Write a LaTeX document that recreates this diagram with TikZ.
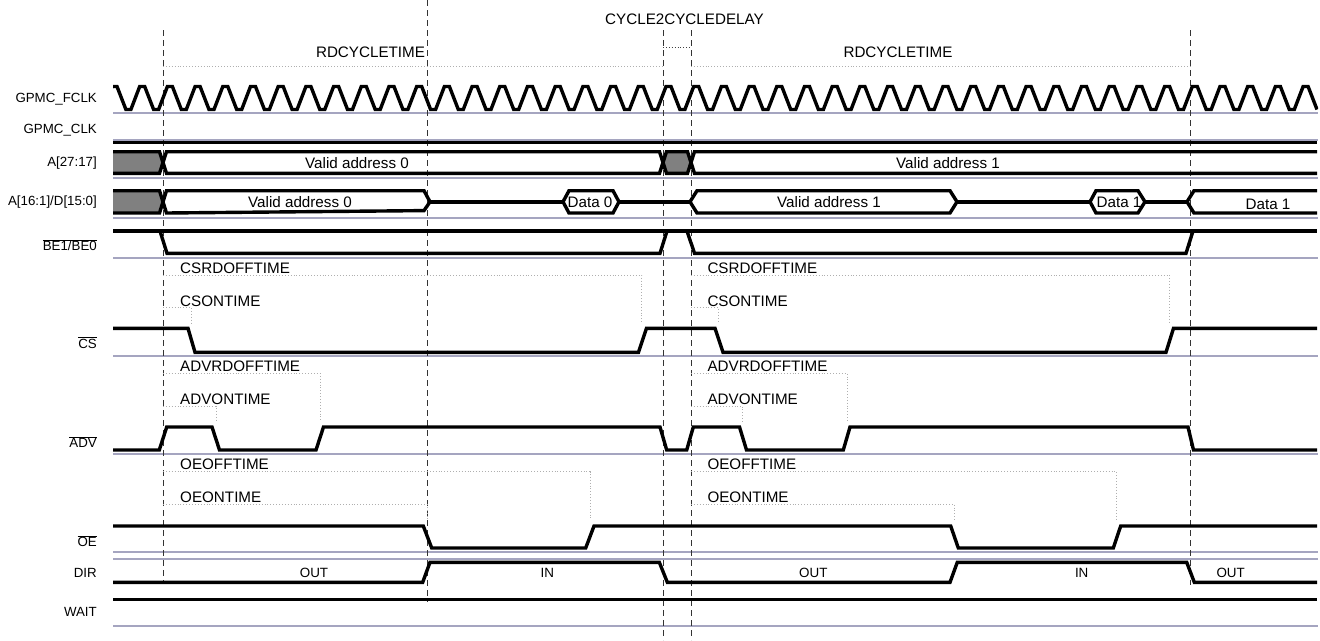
\documentclass[tikz,border=0pt]{standalone}
\usepackage{fontspec}
\setmainfont{Liberation Sans}
\definecolor{dcgray}{RGB}{128,128,128}
\definecolor{basec}{RGB}{165,165,192}
\definecolor{annc}{RGB}{175,175,175}
\begin{document}
\begin{tikzpicture}[x=1pt,y=-1pt,
  sig/.style={line width=3.4pt, black},
  base/.style={line width=1.5pt, color=basec},
  guide/.style={line width=1pt, dash pattern=on 6pt off 4pt, color=black!80},
  ann/.style={line width=0.9pt, dotted, color=annc},
  lbl/.style={anchor=east, inner sep=0pt, font=\fontsize{13.3}{15}\selectfont},
  antxt/.style={anchor=west, inner sep=0pt, font=\fontsize{15.2}{17}\selectfont},
  toptxt/.style={inner sep=0pt, font=\fontsize{15.2}{17}\selectfont},
  bustxt/.style={inner sep=0pt, font=\fontsize{15.2}{17}\selectfont},
  dirtxt/.style={inner sep=0pt, font=\fontsize{13.4}{15}\selectfont}
]
\useasboundingbox (0,0) rectangle (1320,640);

% baselines
\foreach \yy in {113,140,178,218,258,356,454,552,559,626}
  \draw[base] (113,\yy) -- (1318,\yy);

% dashed guides
\draw[guide] (163,30) -- (163,582);
\draw[guide] (427,0) -- (427,602);
\draw[guide] (663,30) -- (663,640);
\draw[guide] (691,30) -- (691,640);
\draw[guide] (1190,30) -- (1190,585);

% annotation dotted lines
\draw[ann] (163,66) -- (663,66);
\draw[ann] (691,66) -- (1190,66);
\draw[line width=0.9pt, dotted, color=black!75] (663,47.3) -- (691,47.3);
\draw[ann] (163,275) -- (641.7,275) -- (641.7,323);
\draw[ann] (691,275) -- (1169.3,275) -- (1169.3,323);
\draw[ann] (163,307.7) -- (191.7,307.7) -- (191.7,323);
\draw[ann] (691,307.7) -- (718.3,307.7) -- (718.3,323);
\draw[ann] (163,373.3) -- (320,373.3) -- (320,421.7);
\draw[ann] (691,373.3) -- (847.3,373.3) -- (847.3,421.7);
\draw[ann] (163,406) -- (216,406) -- (216,421.7);
\draw[ann] (691,406) -- (742.7,406) -- (742.7,421.7);
\draw[ann] (163,471.7) -- (590,471.7) -- (590,520);
\draw[ann] (691,471.7) -- (1116.7,471.7) -- (1116.7,520);
\draw[ann] (163,504) -- (427,504) -- (427,520);
\draw[ann] (691,504) -- (954.3,504) -- (954.3,520);

% GPMC_FCLK
\begin{scope}
\clip (113,70) rectangle (1318,120);
\draw[sig] (95,109.5) \foreach \k in {-2,...,41}{
  -- ({163+\k*27.7-4.4},109.5) -- ({163+\k*27.7+4.4},86.5)
  -- ({163+\k*27.7+9.4},86.5) -- ({163+\k*27.7+18.3},109.5)};
\end{scope}

% GPMC_CLK
\draw[sig] (113,142.3) -- (1317,142.3);

% A[27:17]
\fill[dcgray] (113,151.7) -- (159.5,151.7) -- (163,162.5) -- (159.5,173.3) -- (113,173.3) -- cycle;
\fill[dcgray] (666.5,151.7) -- (687.5,151.7) -- (691,162.5) -- (687.5,173.3) -- (666.5,173.3) -- (663,162.5) -- cycle;
\draw[sig] (113,151.7) -- (159.5,151.7) -- (166.5,173.3) -- (659.5,173.3) -- (666.5,151.7) -- (687.5,151.7) -- (694.5,173.3) -- (1317,173.3);
\draw[sig] (113,173.3) -- (159.5,173.3) -- (166.5,151.7) -- (659.5,151.7) -- (666.5,173.3) -- (687.5,173.3) -- (694.5,151.7) -- (1317,151.7);

% A[16:1]/D[15:0]
\fill[dcgray] (113,190.7) -- (159.5,190.7) -- (163,201.8) -- (159.5,213) -- (113,213) -- cycle;
\draw[sig] (113,190.7) -- (159.5,190.7) -- (166.5,213) -- (424,210.6) -- (430,201.8) -- (424,190.7) -- (166.5,190.7) -- (159.5,213) -- (113,213);
\draw[sig] (430,201.8) -- (563,201.8);
\draw[sig] (563,201.8) -- (569,190.7) -- (613,190.7) -- (619,201.8) -- (613,213) -- (569,213) -- cycle;
\draw[sig] (619,201.8) -- (690,201.8);
\draw[sig] (690,201.8) -- (697,190.7) -- (950,190.7) -- (957,201.8) -- (950,213) -- (697,213) -- cycle;
\draw[sig] (957,201.8) -- (1090,201.8);
\draw[sig] (1090,201.8) -- (1096,190.7) -- (1138,190.7) -- (1145,201.8) -- (1138,213) -- (1096,213) -- cycle;
\draw[sig] (1145,201.8) -- (1187,201.8);
\draw[sig] (1317,190.7) -- (1194,190.7) -- (1187,201.8) -- (1194,213) -- (1317,213);

% BE1/BE0
\draw[sig] (113,231) -- (1317,231);
\draw[sig] (160,231) -- (167,253.3) -- (660,253.3) -- (667,231);
\draw[sig] (687,231) -- (694.5,253.3) -- (1186,253.3) -- (1193,231);

% CS
\draw[sig] (113,328.3) -- (188,328.3) -- (195,352.3) -- (638.5,352.3) -- (646.5,328.3) -- (715,328.3) -- (723,352.3) -- (1166,352.3) -- (1173.5,328.3) -- (1317,328.3);

% ADV
\draw[sig] (113,450) -- (159.3,450) -- (166.7,427) -- (212,427) -- (219.5,450) -- (316,450) -- (323.5,427) -- (660,427) -- (666.7,450) -- (686.7,450) -- (693.3,427) -- (739.5,427) -- (746.5,450) -- (843.3,450) -- (850,427) -- (1188,427) -- (1193.5,450) -- (1317,450);

% OE
\draw[sig] (113,526) -- (423.3,526) -- (431.7,548) -- (585.7,548) -- (594,526) -- (950.7,526) -- (958.3,548) -- (1113.3,548) -- (1120.7,526) -- (1317,526);

% DIR
\draw[sig] (113,582.3) -- (422.7,582.3) -- (430,562.3) -- (659.3,562.3) -- (667.3,582.3) -- (950,582.3) -- (957.3,562.3) -- (1186.7,562.3) -- (1194.3,582.3) -- (1317,582.3);

% WAIT
\draw[sig] (113,599.5) -- (1317,599.5);

% left labels
\node[lbl] (lfclk) at (97,99) {GPMC\_FCLK};
\node[lbl] (lclk) at (97,130) {GPMC\_CLK};
\node[lbl] (la27) at (97,163.3) {A[27:17]};
\node[lbl] (la16) at (97,201.7) {A[16:1]/D[15:0]};
\node[lbl] (lbe) at (97,245) {$\overline{\mbox{BE1/BE0}}$};
\node[lbl] (lcs) at (97,342.7) {$\overline{\mbox{CS}}$};
\node[lbl] (ladv) at (97,441.7) {$\overline{\mbox{ADV}}$};
\node[lbl] (loe) at (97,541) {$\overline{\mbox{OE}}$};
\node[lbl] (ldir) at (97,573.3) {DIR};
\node[lbl] (lwait) at (97,611.7) {WAIT};

% top annotations
\node[toptxt] (c2c) at (684.5,19.3) {CYCLE2CYCLEDELAY};
\node[toptxt] (rd0) at (370.5,52) {RDCYCLETIME};
\node[toptxt] (rd1) at (898,52) {RDCYCLETIME};

% timing annotations
\node[antxt] (csoff0) at (180,268.3) {CSRDOFFTIME};
\node[antxt] (cson0) at (180,301.7) {CSONTIME};
\node[antxt] (advoff0) at (180,366) {ADVRDOFFTIME};
\node[antxt] (advon0) at (180,399.3) {ADVONTIME};
\node[antxt] (oeoff0) at (180,464.7) {OEOFFTIME};
\node[antxt] (oeon0) at (180,497.7) {OEONTIME};
\node[antxt] (csoff1) at (707.3,268.3) {CSRDOFFTIME};
\node[antxt] (cson1) at (707.3,301.7) {CSONTIME};
\node[antxt] (advoff1) at (707.3,366) {ADVRDOFFTIME};
\node[antxt] (advon1) at (707.3,399.3) {ADVONTIME};
\node[antxt] (oeoff1) at (707.3,464.7) {OEOFFTIME};
\node[antxt] (oeon1) at (707.3,497.7) {OEONTIME};

% bus texts
\node[bustxt] (va270) at (357,163) {Valid address 0};
\node[bustxt] (va271) at (948,163) {Valid address 1};
\node[bustxt] (va160) at (300,202) {Valid address 0};
\node[bustxt] (d0) at (590,202) {Data 0};
\node[bustxt] (va161) at (829,202) {Valid address 1};
\node[bustxt] (d1a) at (1119,202.5) {Data 1};
\node[bustxt] (d1b) at (1268,204) {Data 1};

% DIR texts
\node[dirtxt] (out0) at (314,573.3) {OUT};
\node[dirtxt] (in0) at (547.3,573.3) {IN};
\node[dirtxt] (out1) at (813.3,573.3) {OUT};
\node[dirtxt] (in1) at (1081.7,573.3) {IN};
\node[dirtxt] (out2) at (1230.7,573.3) {OUT};
\end{tikzpicture}
\end{document}
